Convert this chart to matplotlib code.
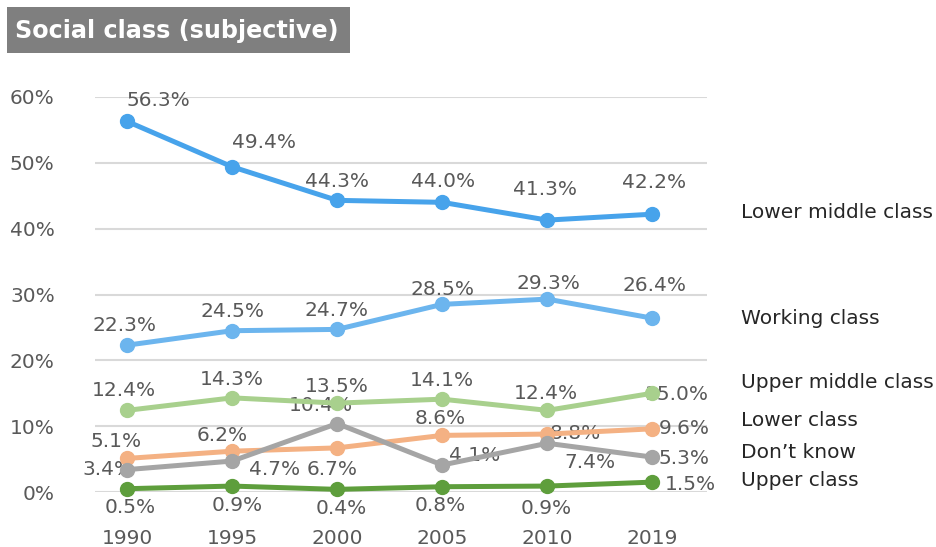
import matplotlib
matplotlib.use("Agg")
import matplotlib.pyplot as plt
from matplotlib.patches import Rectangle

years = ["1990", "1995", "2000", "2005", "2010", "2019"]
series_names = ["Lower middle class", "Working class", "Upper middle class",
                "Lower class", "Don\u2019t know", "Upper class"]
lower_middle = [56.3, 49.4, 44.3, 44.0, 41.3, 42.2]
working = [22.3, 24.5, 24.7, 28.5, 29.3, 26.4]
upper_middle = [12.4, 14.3, 13.5, 14.1, 12.4, 15.0]
lower = [5.1, 6.2, 6.7, 8.6, 8.8, 9.6]
dont_know = [3.4, 4.7, 10.4, 4.1, 7.4, 5.3]
upper = [0.5, 0.9, 0.4, 0.8, 0.9, 1.5]
yticks = [0, 10, 20, 30, 40, 50, 60]

values = [lower_middle, working, upper_middle, lower, dont_know, upper]
colors = ["#47A3EB", "#6CB5EE", "#A8D08D", "#F4B183", "#A5A5A5", "#5E9E3C"]
zorders = [5, 5, 4, 4, 5, 6]
# label offsets in pixels (dx, dy)
offsets = [
    [(31, 21), (32, 24), (0, 19), (1, 21), (-2, 31), (2, 32)],
    [(-3, 20), (0, 19), (-1, 19), (0, 15), (1, 16), (2, 33)],
    [(-3, 20), (0, 18), (0, 17), (0, 19), (-1, 17), (24, -1)],
    [(-11, 17), (-10, 16), (-5, -22), (-2, 17), (28, 1), (32, 0)],
    [(-19, 0), (42, -8), (-16, 18), (32, 10), (43, -19), (32, -1)],
    [(3, -19), (5, -19), (4, -19), (-2, -19), (-1, -22), (38, -2)],
]
name_y = [213, 319, 383, 420, 453, 481]

W, H = 937, 547
fig = plt.figure(figsize=(W / 100, H / 100), dpi=100)
ax = fig.add_axes([95 / W, 1 - 492 / H, (707 - 95) / W, (492 - 97) / H])

x = list(range(len(years)))
txtc = "#595959"
for vals, col, zo, offs in zip(values, colors, zorders, offsets):
    ax.plot(x, vals, color=col, lw=3.6, marker="o", ms=10, zorder=zo,
            clip_on=False, solid_capstyle="round")
    for xi, v, (dx, dy) in zip(x, vals, offs):
        ax.annotate(f"{v:.1f}%", (xi, v), xytext=(dx, dy),
                    textcoords="offset pixels", ha="center", va="center",
                    fontsize=14.5, color=txtc, zorder=2)

ax.set_xlim(-0.305, 5.52)
ax.set_ylim(0, 60)
ax.set_yticks(yticks)
ax.set_yticklabels([f"{t}%" for t in yticks])
ax.set_xticks(x)
ax.set_xticklabels(years)
ax.tick_params(length=0, labelsize=14.5, labelcolor=txtc)
ax.tick_params(axis="y", pad=29)
ax.tick_params(axis="x", pad=27)
ax.grid(axis="y", color="#D9D9D9", lw=1.5, zorder=0)
ax.set_axisbelow(True)
for s in ax.spines.values():
    s.set_visible(False)

for name, yy in zip(series_names, name_y):
    fig.text(741 / W, 1 - yy / H, name, ha="left", va="center",
             fontsize=14.5, color="#262626")

fig.patches.append(Rectangle((7 / W, 1 - 53 / H), (350 - 7) / W, 46 / H,
                             transform=fig.transFigure, facecolor="#7F7F7F",
                             edgecolor="none"))
fig.text(15 / W, 1 - 31 / H, "Social class (subjective)", ha="left",
         va="center", fontsize=17.2, fontweight="bold", color="white")

fig.savefig("out.png", dpi=100)
